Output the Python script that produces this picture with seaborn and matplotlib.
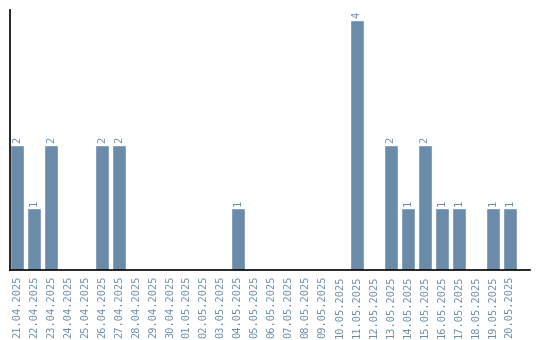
import matplotlib
matplotlib.use("Agg")
import matplotlib.pyplot as plt
import seaborn as sns
import pandas as pd

dates = ["21.04.2025", "22.04.2025", "23.04.2025", "24.04.2025", "25.04.2025",
         "26.04.2025", "27.04.2025", "28.04.2025", "29.04.2025", "30.04.2025",
         "01.05.2025", "02.05.2025", "03.05.2025", "04.05.2025", "05.05.2025",
         "06.05.2025", "07.05.2025", "08.05.2025", "09.05.2025", "10.05.2025",
         "11.05.2025", "12.05.2025", "13.05.2025", "14.05.2025", "15.05.2025",
         "16.05.2025", "17.05.2025", "18.05.2025", "19.05.2025", "20.05.2025"]
counts = [2, 1, 2, 0, 0, 2, 2, 0, 0, 0,
          0, 0, 0, 1, 0, 0, 0, 0, 0, 0,
          4, 0, 2, 1, 2, 1, 1, 0, 1, 1]

color = "#6a8caa"
df = pd.DataFrame({"date": dates, "count": counts})

sns.set_style("white")
plt.rcParams['font.family'] = ['DejaVu Sans Mono', 'DejaVu Sans']

fig = plt.figure(figsize=(5.4, 3.4), dpi=100)
ax = fig.add_axes([10/540, 70/340, 520/540, 260/340])
sns.barplot(data=df, x="date", y="count", color=color, saturation=1, width=0.82, ax=ax)

for i, v in enumerate(counts):
    if v > 0:
        ax.text(i, v + 0.03, str(v), rotation=90, ha="center", va="bottom",
                fontsize=7.5, color=color)

ax.set_xlim(-0.41, 30.2)
ax.set_ylim(0, 4.16)
ax.set_xlabel("")
ax.set_ylabel("")
ax.set_yticks([])
ax.tick_params(axis="x", length=0, pad=4, labelsize=7.5, labelcolor=color)
plt.setp(ax.get_xticklabels(), rotation=90)
for s in ["top", "right"]:
    ax.spines[s].set_visible(False)
for s in ["left", "bottom"]:
    ax.spines[s].set_color("black")
    ax.spines[s].set_linewidth(1.2)

fig.savefig("out.png", dpi=100)
